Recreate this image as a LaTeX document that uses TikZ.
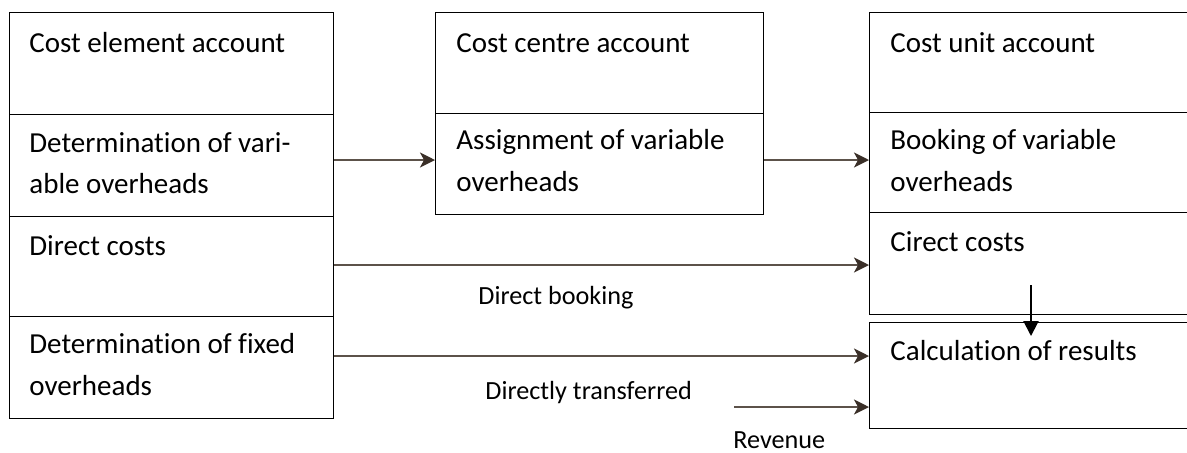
\documentclass[tikz,border=0pt]{standalone}
\usepackage{fontspec}
\setmainfont[RawFeature={-liga;-clig;-calt;-dlig}]{Carlito}
\usetikzlibrary{arrows.meta}

\definecolor{flowline}{HTML}{5C524A}
\definecolor{flowhead}{HTML}{3A2F28}

\tikzset{
  cell/.style={draw=black, line width=0.65pt, rectangle, inner sep=0pt, anchor=north west},
  celltext/.style={anchor=base west, inner sep=0pt,
    font=\fontsize{14.5pt}{20.5pt}\selectfont},
  flowlabel/.style={anchor=base west, inner sep=0pt,
    font=\fontsize{13.1pt}{16pt}\selectfont},
  flow/.style={draw=flowline, line width=1pt,
    -{Stealth[length=7.5pt, width=7.5pt, inset=2pt, color=flowhead]}},
  down/.style={draw=black, line width=1pt,
    -{Triangle[length=7.5pt, width=7.5pt]}}
}

\begin{document}
\begin{tikzpicture}[x=0.5pt, y=-0.5pt]
  \useasboundingbox (0,0) rectangle (1187,452);
  \clip (0,0) rectangle (1187,452);

  % cost element account (left column)
  \node[cell, minimum width=162pt, minimum height=51pt] (elHead) at (9,12) {};
  \node[cell, minimum width=162pt, minimum height=51pt] (elVar)  at (9,114) {};
  \node[cell, minimum width=162pt, minimum height=50pt] (elDir)  at (9,216) {};
  \node[cell, minimum width=162pt, minimum height=51pt] (elFix)  at (9,316) {};

  \node[celltext] (tElHead)  at (29,52)  {Cost element account};
  \node[celltext] (tElVarA)  at (29,152) {Determination of vari-};
  \node[celltext] (tElVarB)  at (29,193) {able overheads};
  \node[celltext] (tElDir)   at (29,255) {Direct costs};
  \node[celltext] (tElFixA)  at (29,353) {Determination of fixed};
  \node[celltext] (tElFixB)  at (29,395) {overheads};

  % cost centre account (middle column)
  \node[cell, minimum width=164pt, minimum height=50.5pt] (ccHead) at (435,12) {};
  \node[cell, minimum width=164pt, minimum height=50.5pt] (ccVar)  at (435,113) {};

  \node[celltext] (tCcHead)  at (456,52)  {Cost centre account};
  \node[celltext] (tCcVarA)  at (456,149) {Assignment of variable};
  \node[celltext] (tCcVarB)  at (456,191) {overheads};

  % cost unit account (right column)
  \node[cell, minimum width=170pt, minimum height=50pt] (cuHead) at (869,12) {};
  \node[cell, minimum width=170pt, minimum height=50pt] (cuVar)  at (869,112) {};
  \node[cell, minimum width=170pt, minimum height=51pt] (cuDir)  at (869,212) {};
  \node[cell, minimum width=170pt, minimum height=53pt] (cuRes)  at (869,322) {};

  \node[celltext] (tCuHead)  at (890,52)  {Cost unit account};
  \node[celltext] (tCuVarA)  at (890,149) {Booking of variable};
  \node[celltext] (tCuVarB)  at (890,191) {overheads};
  \node[celltext] (tCuDir)   at (890,251) {Cirect costs};
  \node[celltext] (tCuRes)   at (890,360) {Calculation of results};

  % connector labels
  \node[flowlabel] (lBook) at (478,304) {Direct booking};
  \node[flowlabel] (lTran) at (485,399) {Directly transferred};
  \node[flowlabel] (lRev)  at (733,448) {Revenue};

  % free ends
  \coordinate (revStart) at (734,407);
  \coordinate (downStart) at (1031,285);
  \coordinate (downEnd) at (1031,336);

  % connectors
  \draw[flow] (elVar.east |- 0,160) -- (ccVar.west |- 0,160);
  \draw[flow] (ccVar.east |- 0,160) -- (cuVar.west |- 0,160);
  \draw[flow] (elDir.east |- 0,265) -- (cuDir.west |- 0,265);
  \draw[flow] (elFix.east |- 0,356) -- (cuRes.west |- 0,356);
  \draw[flow] (revStart) -- (cuRes.west |- revStart);
  \draw[down] (downStart) -- (downEnd);
\end{tikzpicture}
\end{document}
